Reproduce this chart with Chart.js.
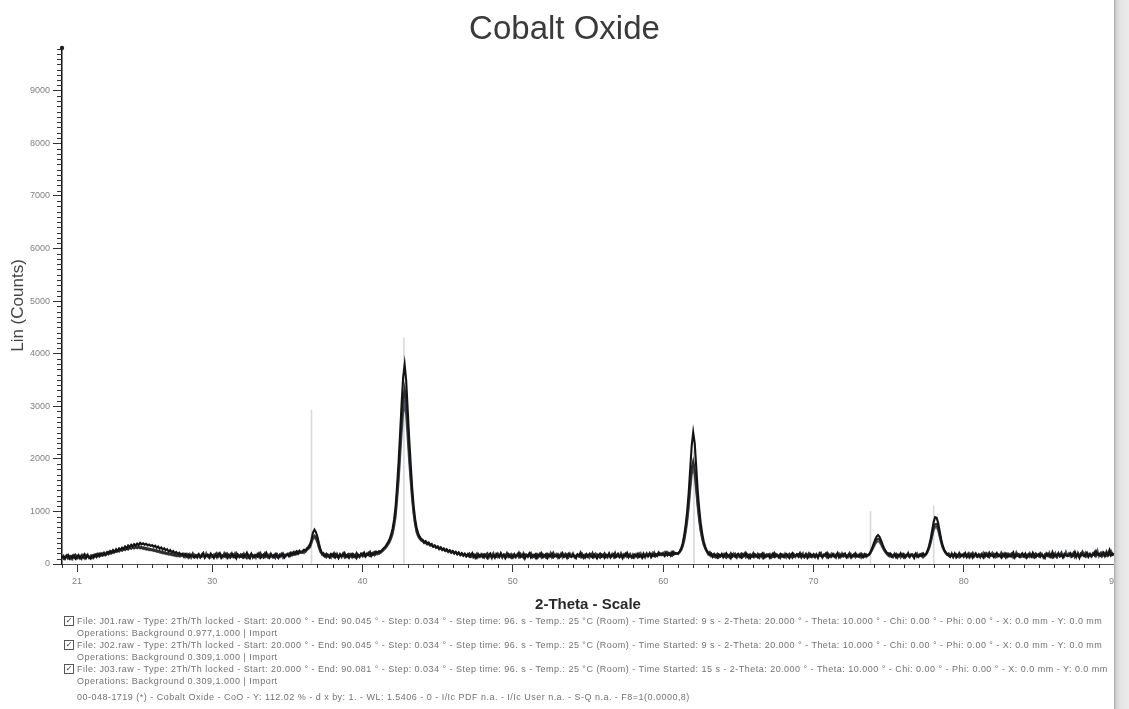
<!DOCTYPE html>
<html>
<head>
<meta charset="utf-8">
<title>Cobalt Oxide</title>
<script src="https://cdn.jsdelivr.net/npm/chart.js@4.4.1/dist/chart.umd.min.js"></script>
<style>
  html, body { margin: 0; padding: 0; background: #fff; }
  #wrap { position: relative; width: 1129px; height: 709px; overflow: hidden; background: #fff; }
  #c { position: absolute; left: 0; top: 0; }
  .leg { position: absolute; left: 77px; width: 1036px; white-space: nowrap; overflow: hidden;
         font-family: "Liberation Sans", Arial, sans-serif; font-size: 9px; line-height: 12px;
         color: #727272; letter-spacing: 0.48px; }
  .box { position: absolute; left: 64px; width: 8px; height: 8px; border: 1px solid #555;
         font: bold 8px/8px "DejaVu Sans", sans-serif; color: #333; text-align: center; }
  #edge { position: absolute; left: 1114px; top: 0; width: 15px; height: 709px;
          background: linear-gradient(to right, #a8a8a8 0px, #d2d2d2 2px, #e4e4e4 6px, #ececec 100%); }
</style>
</head>
<body>
<div id="wrap">
  <canvas id="c" width="1129" height="709"></canvas>
  <div id="legend"></div>
  <div id="edge"></div>
</div>
<script>
// Scan grid (2-Theta, degrees)
const scanStart = 20.0;
const scanStep = 0.1;

// Lin (Counts) per scan, one row per degree (x.0 … x.9)
const countsJ01 = [
  118,152,96,141,173,104,148,122,160,99,
  137,171,108,150,126,181,112,158,134,103,
  162,121,177,139,190,148,201,163,214,176,
  228,193,246,212,265,230,281,247,296,268,
  310,282,331,298,352,319,366,335,378,351,
  389,362,401,374,392,368,384,355,371,342,
  360,328,347,309,331,292,314,276,298,259,
  281,238,264,221,246,205,229,189,214,176,
  198,163,187,144,179,131,172,150,121,166,
  141,188,127,163,205,118,159,176,134,197,
  152,113,184,139,168,207,126,160,143,191,
  119,172,148,201,131,165,110,183,155,137,
  178,124,163,215,140,106,187,151,129,170,
  142,196,118,158,181,134,209,147,116,175,
  161,128,189,145,112,173,154,198,131,167,
  184,146,205,169,222,181,236,198,251,224,
  247,271,258,302,329,372,466,598,652,606,
  512,388,276,211,176,139,192,158,121,174,
  149,203,128,171,115,186,143,162,208,134,
  176,121,159,194,137,168,112,181,153,199,
  164,215,143,188,172,229,158,201,181,236,
  212,247,229,268,301,324,371,418,476,558,
  676,848,1102,1498,1952,2496,3054,3548,3792,3497,
  2948,2396,1903,1452,1096,853,682,583,521,477,
  462,419,436,391,409,365,382,337,356,321,
  336,296,318,279,297,258,280,241,262,225,
  246,208,232,189,219,176,205,163,194,152,
  189,141,176,208,132,164,119,187,150,171,
  128,183,154,112,169,201,137,160,118,192,
  167,131,206,149,174,110,158,189,136,163,
  119,178,145,163,212,127,151,184,106,170,
  155,198,124,167,139,181,113,172,149,204,
  136,160,189,117,175,148,197,129,166,143,
  184,122,158,207,141,169,115,192,153,131,
  170,146,111,185,159,214,133,164,120,178,
  141,193,157,125,181,150,106,169,198,137,
  162,118,177,144,203,131,160,186,123,157,
  195,139,168,112,182,154,209,127,165,148,
  120,176,151,190,134,163,117,199,145,172,
  158,207,131,176,149,188,162,214,173,197,
  181,150,219,166,201,158,226,179,210,192,
  204,241,298,396,546,747,1003,1352,1801,2247,
  2503,2298,1852,1398,1051,779,583,428,332,261,
  219,171,198,136,182,153,120,176,147,191,
  128,169,205,141,158,112,187,163,134,175,
  196,147,121,184,156,209,138,171,115,160,
  143,188,163,127,177,150,196,119,168,141,
  173,115,159,198,135,180,157,124,190,152,
  131,166,189,148,112,174,205,139,161,183,
  158,207,126,170,145,193,118,164,187,136,
  185,142,171,116,199,153,132,178,160,208,
  124,167,151,192,137,163,211,128,176,145,
  169,198,133,158,182,121,165,147,193,154,
  138,177,160,126,186,151,169,186,233,299,
  381,457,521,551,517,451,372,301,249,213,
  171,198,139,162,187,127,170,151,203,144,
  179,121,165,193,140,175,158,112,188,163,
  142,187,156,203,168,197,262,351,481,639,
  801,891,879,781,623,471,353,273,222,191,
  159,134,186,152,201,126,170,193,141,178,
  163,208,130,174,149,186,119,161,204,145,
  187,152,171,126,198,160,139,214,157,173,
  131,176,209,148,167,122,185,153,196,138,
  174,143,162,217,128,189,157,134,179,206,
  150,197,121,168,185,142,213,159,130,177,
  192,138,175,156,116,201,164,189,147,223,
  135,181,160,207,143,170,125,194,168,151,
  178,206,139,163,229,152,185,118,197,170,
  149,172,214,136,181,158,203,166,241,175,
  194,157,187,219,148,206,173,262,161,198,
  184
];

const countsJ02 = [
  140,103,129,165,112,147,98,158,126,171,
  109,152,134,97,168,123,146,181,115,139,
  128,170,143,185,151,196,160,178,205,171,
  192,226,201,238,215,247,229,261,238,272,
  251,287,266,298,274,305,289,313,296,321,
  302,327,296,318,288,309,276,298,265,285,
  258,278,243,262,229,247,214,233,201,218,
  188,207,176,194,164,183,152,172,145,162,
  176,133,158,192,121,169,147,201,137,163,
  122,181,156,138,199,129,170,150,114,186,
  165,128,147,203,139,176,117,160,189,142,
  197,151,119,168,183,134,206,155,126,172,
  131,187,160,114,175,148,197,122,168,153,
  178,136,207,163,125,189,145,171,130,199,
  148,172,119,184,157,136,196,161,124,180,
  170,199,158,214,181,226,192,239,207,222,
  213,244,231,276,294,334,421,509,541,503,
  431,324,239,182,207,154,133,179,162,196,
  172,130,186,151,118,177,160,203,127,169,
  139,191,167,124,181,146,208,162,133,176,
  197,151,186,169,214,160,199,178,225,187,
  218,195,236,247,281,302,343,386,439,511,
  614,771,988,1342,1738,2231,2702,3118,3322,3079,
  2604,2118,1692,1298,991,768,621,538,492,449,
  438,401,417,374,392,352,369,329,348,308,
  327,286,305,265,287,249,270,230,256,217,
  242,201,228,186,214,172,201,160,191,148,
  170,200,138,163,184,119,177,152,131,189,
  161,124,176,205,142,168,113,191,150,137,
  198,145,169,121,183,157,209,134,172,116,
  152,189,128,171,146,197,163,120,185,158,
  132,175,208,143,166,118,180,154,199,127,
  183,147,121,192,158,173,136,211,149,165,
  118,170,187,151,133,195,163,126,178,145,
  201,129,162,177,140,155,188,117,169,193,
  137,174,149,210,128,162,185,146,119,181,
  171,205,134,158,190,124,167,149,213,136,
  154,128,183,147,169,200,138,176,156,121,
  185,147,166,127,198,152,179,136,162,204,
  138,176,192,155,217,148,186,169,201,180,
  212,171,193,224,180,206,163,218,188,198,
  209,232,277,356,479,651,869,1161,1519,1821,
  1952,1797,1482,1148,871,649,501,379,301,243,
  194,226,158,181,137,166,195,128,172,150,
  186,142,119,177,161,204,133,158,190,125,
  145,173,198,131,166,149,182,115,177,159,
  208,135,161,187,120,172,146,199,134,168,
  151,190,126,164,208,143,176,157,118,185,
  179,130,162,141,193,158,121,187,150,172,
  133,169,191,152,124,180,163,205,138,160,
  170,126,188,144,173,211,137,164,195,131,
  192,159,135,178,151,119,186,162,140,203,
  147,183,125,171,210,143,159,188,129,174,
  176,132,194,160,141,185,152,177,219,277,
  341,404,457,481,463,403,336,279,231,199,
  205,146,179,131,164,193,122,175,157,188,
  127,172,150,209,139,161,184,146,198,133,
  173,154,190,128,166,187,239,317,421,559,
  689,756,761,684,557,427,331,259,213,177,
  201,149,172,126,190,164,137,208,155,171,
  131,185,158,199,123,167,212,144,178,152,
  168,127,193,161,142,207,171,129,183,160,
  196,158,135,181,150,213,140,173,121,189,
  143,182,205,126,164,148,195,171,138,162,
  175,129,160,191,137,176,150,123,199,166,
  141,207,168,132,183,157,195,139,174,128,
  193,152,124,179,164,216,131,160,186,149,
  156,184,170,212,129,166,193,153,176,238,
  188,137,169,155,197,144,178,226,153,205,
  167,208,141,186,174,236,159,193,215,172,
  196
];

const countsJ03 = [
  99,133,121,158,106,145,127,92,164,118,
  155,116,142,174,131,101,167,138,123,160,
  113,149,176,134,189,158,172,203,166,191,
  214,186,231,207,255,226,268,244,289,271,
  302,279,326,305,341,318,352,333,345,328,
  339,314,331,302,322,289,308,276,294,262,
  279,248,265,233,251,219,238,205,226,193,
  213,180,201,168,190,158,181,150,173,143,
  164,197,128,172,145,189,116,160,181,137,
  176,148,119,185,157,133,204,141,168,124,
  139,181,162,120,195,150,173,131,209,158,
  170,126,188,143,161,202,119,176,147,185,
  146,199,132,172,124,158,184,137,169,116,
  192,151,176,129,163,210,144,120,182,157,
  125,168,147,193,136,181,159,115,174,150,
  196,163,213,177,200,186,224,195,237,216,
  222,206,247,263,289,316,398,482,501,468,
  402,303,226,197,155,181,127,170,149,118,
  184,157,135,196,142,171,126,189,163,140,
  162,117,185,149,176,130,197,153,128,180,
  145,189,161,207,173,148,194,219,166,203,
  184,223,210,239,262,293,324,366,414,481,
  569,712,903,1221,1589,2042,2498,2881,3051,2838,
  2402,1958,1571,1219,942,738,602,523,478,446,
  426,394,409,373,386,352,361,329,338,306,
  316,280,298,264,279,244,262,229,247,212,
  233,196,219,180,205,167,193,155,184,138,
  161,192,147,128,179,158,201,133,167,145,
  183,139,165,197,121,176,150,208,131,162,
  129,173,195,141,160,118,187,154,176,199,
  174,133,156,190,126,169,145,207,137,182,
  162,201,137,119,178,153,191,131,170,146,
  121,169,154,185,136,208,128,177,159,195,
  157,139,196,122,174,151,183,141,203,166,
  190,155,133,171,149,126,197,158,181,136,
  167,120,185,143,172,202,135,159,127,176,
  138,184,159,121,168,145,194,130,178,153,
  175,145,213,162,130,186,151,170,198,133,
  159,124,187,143,176,209,138,166,120,181,
  171,193,144,208,162,181,150,223,186,166,
  197,228,172,205,186,214,176,232,193,207,
  188,221,263,331,439,601,799,1071,1399,1702,
  1829,1691,1388,1081,819,616,468,363,287,237,
  181,210,147,174,196,129,163,184,140,172,
  157,191,136,168,124,180,149,201,163,118,
  172,134,189,158,201,127,162,145,186,152,
  126,175,143,196,159,182,118,164,139,190,
  183,141,170,131,154,194,166,135,177,146,
  148,198,123,179,163,137,186,157,130,194,
  191,139,162,206,128,151,173,132,189,167,
  143,181,155,129,167,190,121,176,149,184,
  158,133,201,165,186,144,171,198,125,163,
  190,146,167,123,152,188,136,172,207,141,
  161,196,128,180,165,132,171,172,211,261,
  317,375,417,433,415,369,309,259,217,181,
  154,188,162,133,196,142,178,165,121,182,
  198,143,177,156,126,189,168,135,171,205,
  137,166,145,177,152,181,227,301,394,521,
  641,701,706,637,519,401,309,247,204,176,
  183,145,207,131,166,190,152,124,185,157,
  192,147,170,136,201,158,143,187,161,129,
  140,179,154,211,132,166,197,149,176,218,
  163,127,190,157,181,143,174,205,138,169,
  199,166,135,172,148,224,160,187,129,151,
  134,185,172,146,208,161,131,193,177,156,
  178,151,192,120,169,186,148,215,133,170,
  159,209,137,188,153,195,172,142,231,164,
  204,142,180,158,197,133,218,171,149,190,
  166,215,147,192,173,136,187,204,163,251,
  145,189,226,168,204,157,191,174,247,186,
  172
];

// Reference pattern 00-048-1719 (CoO): line positions and heights
const refAngles = [36.6, 42.75, 62.05, 73.8, 78.0];
const refCounts = [2930, 4300, 2150, 1000, 1100];

// Axis labels
const xTickValues = [21, 30, 40, 50, 60, 70, 80, 90];
const yTickValues = [0, 1000, 2000, 3000, 4000, 5000, 6000, 7000, 8000, 9000];

// Text block under the plot
const legendLines = [
  { box: true,  text: "File: J01.raw - Type: 2Th/Th locked - Start: 20.000 ° - End: 90.045 ° - Step: 0.034 ° - Step time: 96. s - Temp.: 25 °C (Room) - Time Started: 9 s - 2-Theta: 20.000 ° - Theta: 10.000 ° - Chi: 0.00 ° - Phi: 0.00 ° - X: 0.0 mm - Y: 0.0 mm" },
  { box: false, text: "Operations: Background 0.977,1.000 | Import" },
  { box: true,  text: "File: J02.raw - Type: 2Th/Th locked - Start: 20.000 ° - End: 90.045 ° - Step: 0.034 ° - Step time: 96. s - Temp.: 25 °C (Room) - Time Started: 9 s - 2-Theta: 20.000 ° - Theta: 10.000 ° - Chi: 0.00 ° - Phi: 0.00 ° - X: 0.0 mm - Y: 0.0 mm" },
  { box: false, text: "Operations: Background 0.309,1.000 | Import" },
  { box: true,  text: "File: J03.raw - Type: 2Th/Th locked - Start: 20.000 ° - End: 90.081 ° - Step: 0.034 ° - Step time: 96. s - Temp.: 25 °C (Room) - Time Started: 15 s - 2-Theta: 20.000 ° - Theta: 10.000 ° - Chi: 0.00 ° - Phi: 0.00 ° - X: 0.0 mm - Y: 0.0 mm" },
  { box: false, text: "Operations: Background 0.309,1.000 | Import" },
  { box: false, text: "00-048-1719 (*) - Cobalt Oxide - CoO - Y: 112.02 % - d x by: 1. - WL: 1.5406 - 0 - I/Ic PDF n.a. - I/Ic User n.a. - S-Q n.a. - F8=1(0.0000,8)" }
];
const legendTops = [615, 627, 639, 651, 663, 675, 691];

const legendEl = document.getElementById('legend');
legendLines.forEach((line, i) => {
  const t = document.createElement('div');
  t.className = 'leg';
  t.style.top = legendTops[i] + 'px';
  t.textContent = line.text;
  legendEl.appendChild(t);
  if (line.box) {
    const b = document.createElement('div');
    b.className = 'box';
    b.style.top = (legendTops[i] + 1) + 'px';
    b.textContent = '✓';
    legendEl.appendChild(b);
  }
});

const toPoints = counts => counts.map((c, i) => ({ x: +(scanStart + i * scanStep).toFixed(2), y: c }));

// Short ticks between the labelled ones, plus the cap at the top of the count axis
const minorTicks = {
  id: 'minorTicks',
  afterDraw(chart) {
    const { ctx, scales: { x, y } } = chart;
    ctx.save();
    ctx.strokeStyle = '#333';
    ctx.lineWidth = 1;
    ctx.beginPath();
    for (let v = 100; v <= y.max; v += 100) {
      if (v % 1000 === 0) continue;
      const py = Math.round(y.getPixelForValue(v)) + 0.5;
      ctx.moveTo(y.right - 5, py);
      ctx.lineTo(y.right, py);
    }
    for (let d = 20; d <= 90; d++) {
      if (xTickValues.includes(d)) continue;
      const px = Math.round(x.getPixelForValue(d)) + 0.5;
      ctx.moveTo(px, x.top);
      ctx.lineTo(px, x.top + 4);
    }
    ctx.stroke();
    ctx.fillStyle = '#222';
    ctx.beginPath();
    ctx.arc(chart.chartArea.left, chart.chartArea.top + 1, 2.2, 0, Math.PI * 2);
    ctx.fill();
    ctx.restore();
  }
};

new Chart(document.getElementById('c'), {
  type: 'line',
  data: {
    datasets: [
      { type: 'bar', label: '00-048-1719', data: refAngles.map((a, i) => ({ x: a, y: refCounts[i] })),
        backgroundColor: '#dadada', barThickness: 1, order: 10, yAxisID: 'y' },
      { label: 'J03.raw', data: toPoints(countsJ03), borderColor: '#4d5866', borderWidth: 2.1,
        pointRadius: 0, tension: 0, order: 3 },
      { label: 'J02.raw', data: toPoints(countsJ02), borderColor: '#2e2e2e', borderWidth: 2.1,
        pointRadius: 0, tension: 0, order: 2 },
      { label: 'J01.raw', data: toPoints(countsJ01), borderColor: '#141414', borderWidth: 2.1,
        pointRadius: 0, tension: 0, order: 1 }
    ]
  },
  options: {
    responsive: false,
    animation: false,
    devicePixelRatio: 1,
    layout: { padding: 0 },
    plugins: {
      legend: { display: false },
      tooltip: { enabled: false },
      title: {
        display: true, text: 'Cobalt Oxide', color: '#3a3a3a',
        font: { family: '"Liberation Sans", Arial, sans-serif', size: 33, weight: 'normal', lineHeight: 1 },
        padding: { top: 13, bottom: 1 }
      }
    },
    scales: {
      x: {
        type: 'linear', min: 20, max: 90, offset: false,
        afterBuildTicks: s => { s.ticks = xTickValues.map(v => ({ value: v })); },
        ticks: { autoSkip: false, maxRotation: 0, padding: 4, color: '#808080',
                 font: { family: '"Liberation Sans", Arial, sans-serif', size: 9 },
                 callback: v => String(v) },
        grid: { drawOnChartArea: false, offset: false, tickLength: 8, tickColor: '#333', tickWidth: 1 },
        border: { display: true, color: '#555', width: 1 },
        title: { display: true, text: '2-Theta - Scale', color: '#2a2a2a',
                 font: { family: '"Liberation Sans", Arial, sans-serif', size: 15, weight: 'bold' },
                 padding: { top: 0, bottom: 95 } },
        afterFit: s => { s.height = 145; }
      },
      y: {
        type: 'linear', position: 'left', min: 0, max: 9830,
        afterBuildTicks: s => { s.ticks = yTickValues.map(v => ({ value: v })); },
        ticks: { padding: 3, color: '#808080',
                 font: { family: '"Liberation Sans", Arial, sans-serif', size: 9 },
                 callback: v => String(v) },
        grid: { drawOnChartArea: false, tickLength: 9, tickColor: '#333', tickWidth: 1 },
        border: { display: true, color: '#111', width: 1.5 },
        title: { display: true, text: 'Lin (Counts)', color: '#444',
                 font: { family: '"Liberation Sans", Arial, sans-serif', size: 17 },
                 padding: { top: 8, bottom: 0 } },
        afterFit: s => { s.width = 62; }
      },
      yRight: {
        type: 'linear', position: 'right', min: 0, max: 1, display: true,
        ticks: { display: false }, grid: { display: false, drawTicks: false },
        border: { display: false },
        afterFit: s => { s.width = 15; }
      }
    }
  },
  plugins: [minorTicks]
});
</script>
</body>
</html>
